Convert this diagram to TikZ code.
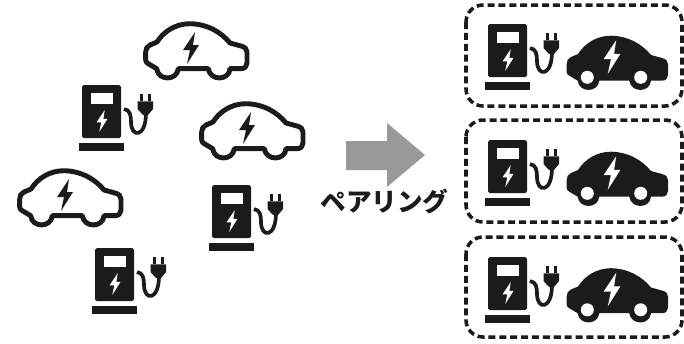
\documentclass[tikz,border=0pt]{standalone}
\usepackage{fontspec}
\newfontfamily\cjk{Noto Sans CJK JP}
\usetikzlibrary{positioning}
\definecolor{inkblack}{HTML}{1C1A1B}
\newcommand{\carbody}{(4.3,41.7) -- (12.7,46.7) .. controls (14,59) and (33,59) .. (34.3,46.7) -- (64.3,46.7) .. controls (66,59) and (85,59) .. (86,46.7) -- (97,46.7) .. controls (101,46.7) and (103,44) .. (103,41) -- (103,30) .. controls (103,27) and (101,25) .. (97,24) -- (86,21) .. controls (78,11) and (64,2) .. (46,1.7) .. controls (32,1.7) and (20,9) .. (13,20) -- (6,23) .. controls (3,24) and (1.7,27) .. (1.7,30) -- (1.7,38) .. controls (1.7,40) and (3,41) .. (4.3,41.7) -- cycle}
\tikzset{
  pairbox/.style={draw=inkblack, line width=2pt, rounded corners=0.34cm, dash pattern=on 4pt off 2.2pt},
  pairarrow/.style={fill=gray!80},
  pairlab/.style={font=\cjk\bfseries\fontsize{14.6}{14.6}\selectfont, text=inkblack, inner sep=0pt},
  bolt/.pic={\fill[pic actions] (4,-16) -- (-8,2) -- (-1,2) -- (-4,16) -- (8,-3) -- (2,-3) -- cycle;},
  charger/.pic={
    \fill[inkblack, rounded corners=1pt] (0,0) rectangle (39,53);
    \fill[inkblack] (-3,57.5) rectangle (42,65.5);
    \fill[white] (8.5,8) rectangle (31,19);
    \pic[fill=white, scale=0.68] at (20,36) {bolt};
    \draw[inkblack, line width=2.1pt] (42,24) .. controls (48,25) and (49,30) .. (49,37) .. controls (49,53) and (64,53) .. (64,28);
    \fill[inkblack] (55.5,16.3) -- (71,16.3) -- (71,24) -- (66,30) -- (61,30) -- (55.5,24) -- cycle;
    \fill[inkblack] (57.7,8.7) rectangle (61,16.3);
    \fill[inkblack] (66,8.7) rectangle (69.3,16.3);
  },
  carline/.pic={
    \draw[inkblack, line width=2.8pt, line join=round] \carbody;
    \pic[fill=inkblack, scale=1] at (47,26) {bolt};
  },
  carsolid/.pic={
    \fill[inkblack] \carbody;
    \fill[white] (22.3,43.3) circle (6.5);
    \fill[white] (75.7,43.3) circle (6.5);
    \pic[fill=white, scale=1.05] at (47,23) {bolt};
  },
}
\begin{document}
\begin{tikzpicture}[x=0.02cm, y=-0.02cm]
  \useasboundingbox (0,0) rectangle (684,343);
  \pic at (144,22) {carline};
  \pic at (200,102) {carline};
  \pic at (18,169) {carline};
  \pic at (82,85) {charger};
  \pic at (212,185) {charger};
  \pic at (95,248) {charger};
  \fill[pairarrow] (346,141) -- (387,141) -- (387,123) -- (425,155) -- (387,187) -- (387,170) -- (346,170) -- cycle;
  \node[pairlab] (pairing) at (384.5,202) {ペアリング};
  \draw[pairbox] (466,5) rectangle (682,106);
  \draw[pairbox] (466,120) rectangle (682,222);
  \draw[pairbox] (466,237) rectangle (682,337);
  \pic at (488,24) {charger};
  \pic at (565,34) {carsolid};
  \pic at (488,140) {charger};
  \pic at (565,150) {carsolid};
  \pic at (488,257) {charger};
  \pic at (565,266.5) {carsolid};
\end{tikzpicture}
\end{document}
